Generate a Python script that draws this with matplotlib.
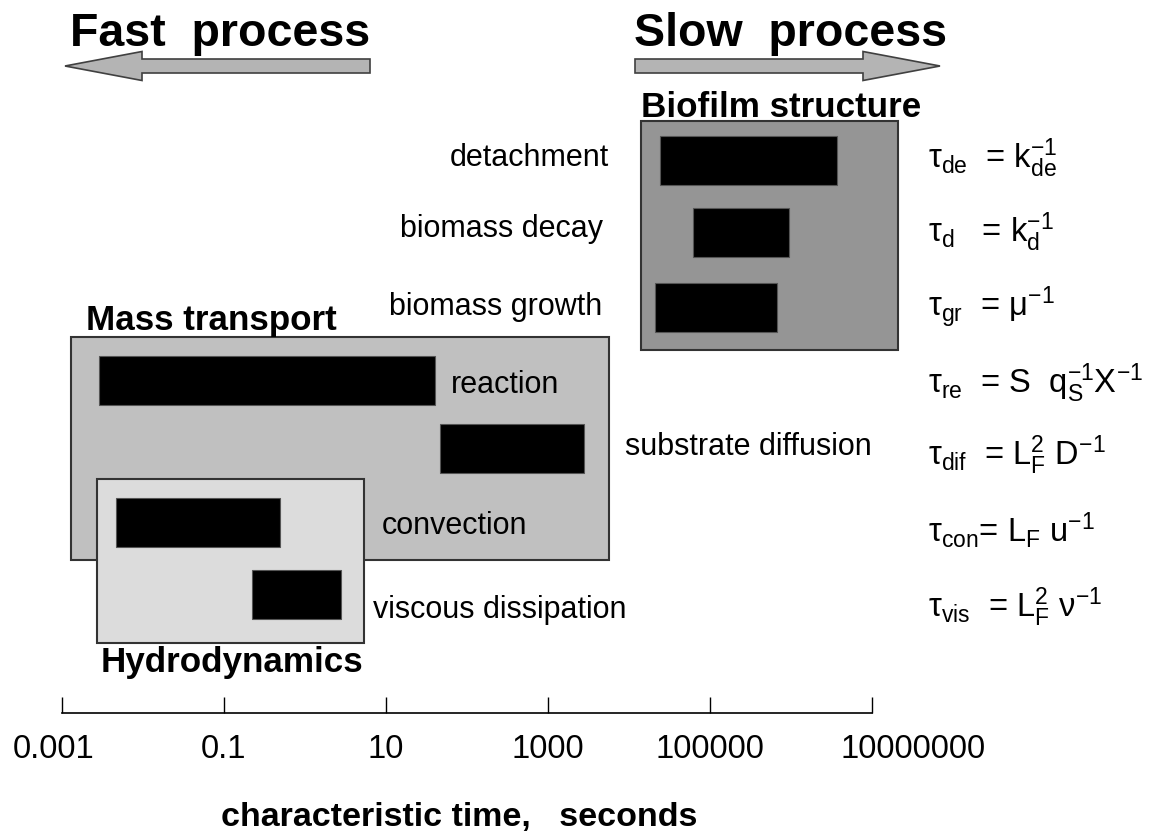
"""
Characteristic time scales of biofilm processes (fast -> slow), log time axis.
"""

import matplotlib.pyplot as plt
import matplotlib.transforms as mtransforms
from matplotlib.patches import FancyArrow
from matplotlib.ticker import FixedLocator, FixedFormatter, NullLocator

plt.rcParams["font.family"] = ["Liberation Sans", "DejaVu Sans"]
plt.rcParams["mathtext.fontset"] = "custom"
plt.rcParams["mathtext.rm"] = "Liberation Sans"
plt.rcParams["mathtext.it"] = "Liberation Sans"
plt.rcParams["mathtext.bf"] = "Liberation Sans:bold"
plt.rcParams["mathtext.default"] = "regular"

# time ranges (seconds) per process
PROCESSES = ["detachment", "biomass decay", "biomass growth", "reaction",
             "substrate diffusion", "convection", "viscous dissipation"]
T_START = [2.4e4, 6.1e4, 2.1e4, 2.9e-3, 46, 4.7e-3, 0.22]
T_END = [3.7e6, 9.4e5, 6.7e5, 40, 2.8e3, 0.49, 2.8]
FORMULAS = [
    r"$\tau_{de}$  = k$_{de}^{-1}$",
    r"$\tau_{d}$   = k$_{d}^{-1}$",
    r"$\tau_{gr}$  = $\mu^{-1}$",
    r"$\tau_{re}$  = S  q$_{S}^{-1}$X$^{-1}$",
    r"$\tau_{dif}$  = L$_{F}^{2}$ D$^{-1}$",
    r"$\tau_{con}$= L$_{F}$ u$^{-1}$",
    r"$\tau_{vis}$  = L$_{F}^{2}$ $\nu^{-1}$",
]

# process groups (shaded boxes)
GROUPS = ["Biofilm structure", "Mass transport", "Hydrodynamics"]
GROUP_START = [1.4e4, 1.3e-3, 2.7e-3]
GROUP_END = [2.1e7, 5.7e3, 5.3]
GROUP_COLORS = ["#959595", "#c0c0c0", "#dcdcdc"]

TICKS = [1e-3, 1e-1, 1e1, 1e3, 1e5, 1e7]
TICK_LABELS = ["0.001", "0.1", "10", "1000", "100000", "10000000"]

# ---- layout (figure pixels, 1 px = 1 y unit) ----
W, H = 1162, 832
PX0, PX_PER_DEC = 62, 81.0          # pixel of 1e-3, pixels per decade


def px2t(px):
    return 10 ** ((px - PX0) / PX_PER_DEC - 3)


ROW_Y = [160, 232, 307, 380, 448, 522, 594]
BAR_H = 49
GROUP_Y = [(121, 350), (337, 560), (479, 643)]
GROUP_LABEL_XY = [(641, 117), (86, 330), (101, 672)]
LABEL_XY = [(609, 158, "right"), (603, 229, "right"), (602, 307, "right"),
            (451, 385, "left"), (625, 447, "left"), (382, 526, "left"),
            (373, 610, "left")]
FORMULA_X = 928
FORMULA_Y = [158, 232, 307, 383, 455, 530, 607]
AXIS_Y = 713

fig = plt.figure(figsize=(W / 100, H / 100), dpi=100)

# decoration layer in plain pixel coordinates (arrows)
deco = fig.add_axes([0, 0, 1, 1], zorder=0)
deco.set_xlim(0, W)
deco.set_ylim(H, 0)
deco.axis("off")

arrow_kw = dict(width=14, head_width=29, head_length=77,
                length_includes_head=True, fc="#b4b4b4", ec="#404040", lw=1.2)
deco.add_patch(FancyArrow(370, 66, -305, 0, **arrow_kw))
deco.add_patch(FancyArrow(635, 66, 305, 0, **arrow_kw))
deco.text(70, 46, "Fast  process", fontsize=33.5, fontweight="bold",
          ha="left", va="baseline")
deco.text(634, 46, "Slow  process", fontsize=33.5, fontweight="bold",
          ha="left", va="baseline")

# main layer: log time axis
ax = fig.add_axes([0, 0, 1, 1], zorder=1)
ax.patch.set_visible(False)
ax.set_xscale("log")
ax.set_xlim(px2t(0), px2t(W))
ax.set_ylim(H, 0)

for name, lo, hi, color, (y0, y1), (lx, ly) in zip(
        GROUPS, GROUP_START, GROUP_END, GROUP_COLORS, GROUP_Y, GROUP_LABEL_XY):
    ax.barh((y0 + y1) / 2, hi - lo, left=lo, height=y1 - y0,
            color=color, edgecolor="#333333", linewidth=1.5, zorder=1)
    ax.text(px2t(lx), ly, name, fontsize=25.2, fontweight="bold",
            ha="left", va="baseline", zorder=4)

ax.barh(ROW_Y, [h - l for l, h in zip(T_START, T_END)], left=T_START,
        height=BAR_H, color="black", edgecolor="#555555", linewidth=0.8,
        zorder=2)

for name, (lx, ly, ha) in zip(PROCESSES, LABEL_XY):
    ax.text(px2t(lx), ly, name, fontsize=22, ha=ha, va="center", zorder=4)

for f, fy in zip(FORMULAS, FORMULA_Y):
    ax.text(px2t(FORMULA_X), fy, f, fontsize=23.5, ha="left", va="center",
            zorder=4)

# time axis
for side in ("left", "right", "top"):
    ax.spines[side].set_visible(False)
ax.spines["bottom"].set_position(("data", AXIS_Y))
ax.spines["bottom"].set_bounds(TICKS[0], TICKS[-1])
ax.spines["bottom"].set_linewidth(1.2)
ax.xaxis.set_major_locator(FixedLocator(TICKS))
ax.xaxis.set_major_formatter(FixedFormatter(TICK_LABELS))
ax.xaxis.set_minor_locator(NullLocator())
ax.yaxis.set_major_locator(NullLocator())
ax.tick_params(axis="x", direction="in", length=11.5, width=1.0,
               labelsize=23.5, pad=15)
ax.set_xlabel("characteristic time,   seconds", fontsize=24.5,
              fontweight="bold", labelpad=27)
ax.xaxis.label.set_x(459 / W)

# first/last tick labels sit off their ticks in the original
ticks = ax.xaxis.get_major_ticks()
for tk, dx in ((ticks[0], -8), (ticks[-1], 41)):
    lab = tk.label1
    lab.set_transform(lab.get_transform() + mtransforms.ScaledTranslation(
        dx / 100, 0, fig.dpi_scale_trans))

fig.savefig("out.png", dpi=100)
